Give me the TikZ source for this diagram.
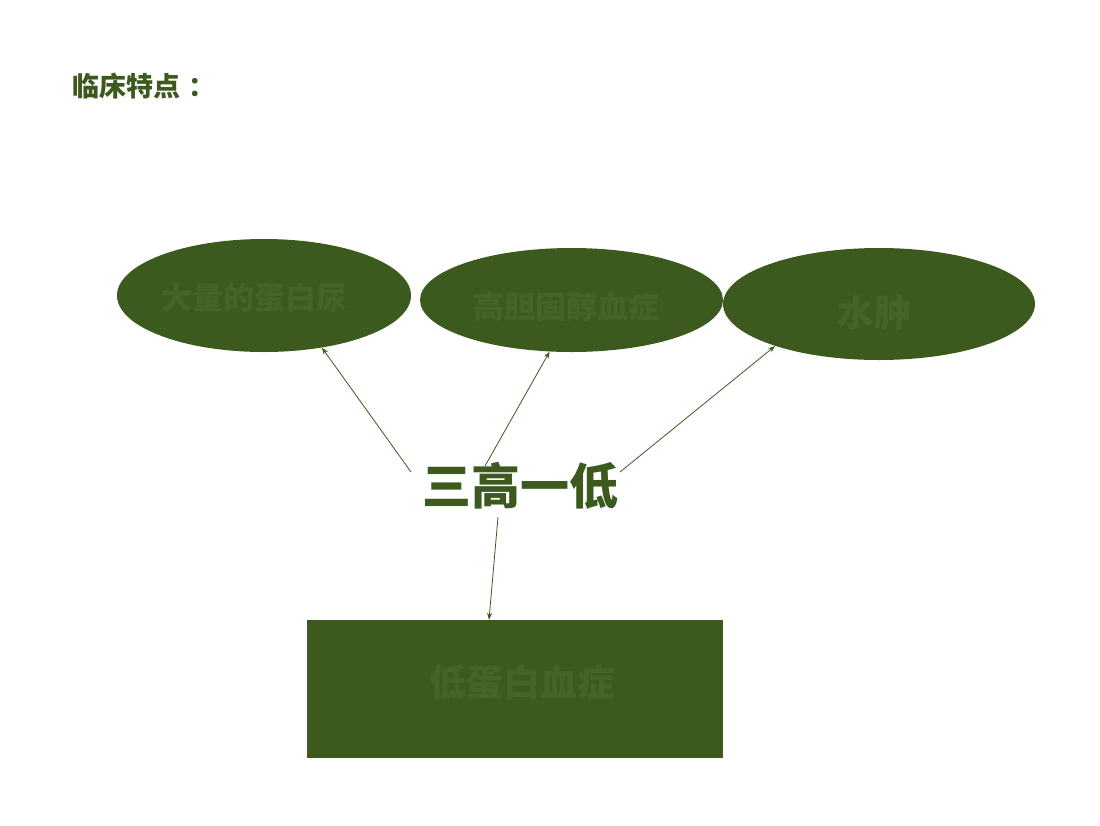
\documentclass[tikz,border=0pt]{standalone}
\usepackage{fontspec}
\newfontfamily\cjk{Noto Sans CJK SC}
\usetikzlibrary{shapes.geometric,arrows.meta}
\definecolor{dgreen}{HTML}{3D5A1E}
\definecolor{tgreen}{HTML}{476427}
\tikzset{
  blob/.style={ellipse, fill=dgreen, draw=none, inner sep=0pt},
  boxshape/.style={rectangle, fill=dgreen, draw=none, inner sep=0pt},
  intext/.style={text=tgreen, font=\cjk\bfseries},
  arr/.style={draw=dgreen, line width=0.8pt, -{Stealth[length=7pt,width=5pt]}}
}
\begin{document}
\begin{tikzpicture}[x=1pt,y=-1pt]
\useasboundingbox[fill=white] (0,0) rectangle (1100,825);
\node[anchor=west, text=dgreen, font=\cjk\bfseries\fontsize{27}{30}\selectfont, inner sep=0pt] (title) at (72,86) {临床特点\hspace{8pt}：};
\node[blob, minimum width=294pt, minimum height=113pt] (e1) at (264,295.5) {};
\node[intext, font=\cjk\bfseries\fontsize{31}{34}\selectfont] (t1) at (254,298) {大量的蛋白尿};
\node[blob, minimum width=303pt, minimum height=104pt] (e2) at (571.5,300) {};
\node[intext, font=\cjk\bfseries\fontsize{31}{34}\selectfont] (t2) at (566,307) {高胆固醇血症};
\node[blob, minimum width=312pt, minimum height=112pt] (e3) at (879,304) {};
\node[intext, font=\cjk\bfseries\fontsize{37}{40}\selectfont] (t3) at (874,312) {水肿};
\node[boxshape, minimum width=416pt, minimum height=138pt] (r) at (515,689) {};
\node[intext, font=\cjk\bfseries\fontsize{37}{40}\selectfont] (t4) at (522,683) {低蛋白血症};
\node[text=dgreen, font=\cjk\bfseries\fontsize{49}{52}\selectfont, inner sep=0pt] (c) at (520,486) {三高一低};
\coordinate (s1) at (411,472);
\coordinate (s2) at (485,466);
\coordinate (s3) at (620,472);
\coordinate (s4) at (498,517);
\draw[arr] (s1) -- (e1.-42);
\draw[arr] (s2) -- (e2.-113);
\draw[arr] (s3) -- (e3.-158);
\draw[arr] (s4) -- ([xshift=-26pt]r.north);
\end{tikzpicture}
\end{document}
